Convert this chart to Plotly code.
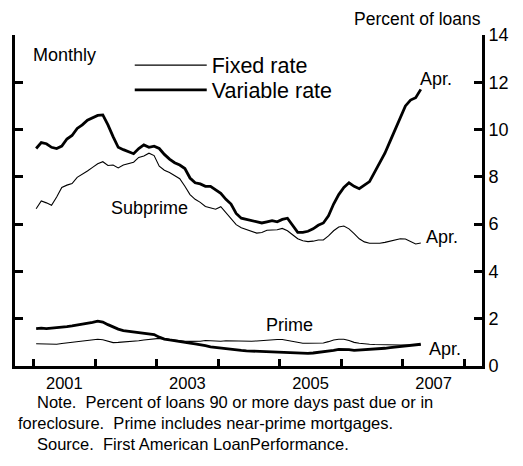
import plotly.graph_objects as go

# Monthly, Jan 2001 .. Apr 2007 (76 observations)
start_year = 2001
n_months = 76

subprime_fixed = [
    6.65, 6.98, 6.90, 6.80, 7.15, 7.55, 7.65, 7.72, 7.98, 8.10, 8.25, 8.40,
    8.55, 8.64, 8.48, 8.50, 8.38, 8.50, 8.57, 8.62, 8.82, 8.88, 9.00, 8.90,
    8.45, 8.28, 8.18, 8.05, 7.92, 7.60, 7.25, 7.05, 6.92, 6.75, 6.68, 6.63,
    6.74, 6.50, 6.25, 5.98, 5.85, 5.78, 5.72, 5.62, 5.65, 5.74, 5.75, 5.76,
    5.82, 5.72, 5.55, 5.38, 5.30, 5.26, 5.28, 5.33, 5.33, 5.50, 5.72, 5.88,
    5.92, 5.80, 5.60, 5.38, 5.25, 5.19, 5.19, 5.19, 5.23, 5.28, 5.32, 5.38,
    5.37, 5.27, 5.16, 5.20,
]
subprime_variable = [
    9.20, 9.45, 9.40, 9.25, 9.20, 9.30, 9.60, 9.75, 10.05, 10.20, 10.40, 10.50,
    10.60, 10.62, 10.20, 9.70, 9.25, 9.15, 9.05, 8.98, 9.20, 9.35, 9.25, 9.30,
    9.20, 8.95, 8.75, 8.60, 8.50, 8.35, 7.95, 7.75, 7.70, 7.60, 7.60, 7.45,
    7.30, 7.05, 6.85, 6.45, 6.25, 6.20, 6.15, 6.10, 6.05, 6.10, 6.15, 6.10,
    6.20, 6.25, 5.95, 5.65, 5.65, 5.70, 5.80, 5.95, 6.05, 6.35, 6.85, 7.25,
    7.55, 7.75, 7.60, 7.50, 7.65, 7.80, 8.20, 8.60, 9.00, 9.50, 10.00, 10.55,
    11.00, 11.25, 11.35, 11.70,
]
prime_fixed = [
    0.94, 0.93, 0.91, 0.90, 0.92, 0.95, 0.98, 1.00, 1.03, 1.06, 1.09, 1.11,
    1.13, 1.11, 1.05, 0.99, 1.00, 1.01, 1.02, 1.04, 1.07, 1.10, 1.13, 1.16,
    1.17, 1.15, 1.12, 1.10, 1.07, 1.05, 1.04, 1.03, 1.05, 1.08, 1.06, 1.04,
    1.05, 1.07, 1.06, 1.07, 1.07, 1.06, 1.05, 1.06, 1.08, 1.10, 1.11, 1.12,
    1.12, 1.08, 1.02, 0.98, 0.96, 0.96, 0.96, 0.96, 0.97, 1.03, 1.10, 1.13,
    1.13, 1.08, 1.00, 0.96, 0.93, 0.92, 0.91, 0.90, 0.90, 0.89, 0.89, 0.89,
    0.89, 0.88, 0.88, 0.89,
]
prime_variable = [
    1.58, 1.60, 1.58, 1.60, 1.60, 1.64, 1.67, 1.70, 1.73, 1.76, 1.80, 1.85,
    1.90, 1.86, 1.75, 1.64, 1.56, 1.50, 1.47, 1.43, 1.40, 1.38, 1.36, 1.33,
    1.22, 1.14, 1.10, 1.06, 1.02, 1.00, 0.97, 0.94, 0.91, 0.86, 0.81, 0.78,
    0.76, 0.73, 0.70, 0.68, 0.66, 0.64, 0.63, 0.62, 0.62, 0.61, 0.60, 0.60,
    0.59, 0.58, 0.56, 0.54, 0.53, 0.53, 0.55, 0.57, 0.59, 0.62, 0.66, 0.70,
    0.71, 0.69, 0.66, 0.67, 0.68, 0.70, 0.71, 0.73, 0.75, 0.78, 0.80, 0.83,
    0.85, 0.86, 0.87, 0.92,
]

year_ticks = [2001, 2002, 2003, 2004, 2005, 2006, 2007, 2008]
year_label_pos = [2001.5, 2003.5, 2005.5, 2007.5]
year_labels = ["2001", "2003", "2005", "2007"]
y_ticks = [0, 2, 4, 6, 8, 10, 12, 14]

# mid-month decimal dates
x_dates = [start_year + (m + 0.5) / 12 for m in range(n_months)]

FONT = "Liberation Sans, Arial, sans-serif"
THIN = 1.1
THICK = 2.8

fig = go.Figure()
fig.add_trace(go.Scatter(x=x_dates, y=subprime_fixed, mode="lines", name="Fixed rate",
                         legend="legend", line=dict(color="black", width=THIN)))
fig.add_trace(go.Scatter(x=x_dates, y=subprime_variable, mode="lines", name="Variable rate",
                         legend="legend2", line=dict(color="black", width=THICK)))
fig.add_trace(go.Scatter(x=x_dates, y=prime_fixed, mode="lines", showlegend=False,
                         line=dict(color="black", width=THIN)))
fig.add_trace(go.Scatter(x=x_dates, y=prime_variable, mode="lines", showlegend=False,
                         line=dict(color="black", width=THICK)))

legend_common = dict(xanchor="left", yanchor="middle", font=dict(size=21.5),
                     bgcolor="rgba(0,0,0,0)", itemwidth=72, borderwidth=0)

# page has an 8px body margin; figure is sized so the plot area sits at
# x 12..482, y 35..366 of the window
fig.update_layout(
    width=515, height=458,
    margin=dict(l=4, r=41, t=27, b=100),
    paper_bgcolor="white", plot_bgcolor="white",
    font=dict(family=FONT, size=18, color="black"),
    showlegend=True,
    legend=dict(x=0.2457, y=0.909, **legend_common),
    legend2=dict(x=0.2457, y=0.834, **legend_common),
    xaxis=dict(
        range=[2000.698, 2008.286],
        showgrid=False, zeroline=False,
        showline=True, linecolor="black", linewidth=3,
        tickmode="array", tickvals=year_label_pos, ticktext=year_labels,
        ticks="", tickfont=dict(size=16.5), ticklabelstandoff=0,
        minor=dict(tickmode="array", tickvals=year_ticks, ticks="inside",
                   ticklen=7, tickwidth=2.5, tickcolor="black", showgrid=False),
    ),
    yaxis=dict(
        range=[0, 14], side="right",
        showgrid=False, zeroline=False,
        showline=True, linecolor="black", linewidth=3, mirror="allticks",
        tickmode="array", tickvals=y_ticks,
        ticks="inside", ticklen=8, tickwidth=2.5, tickcolor="black",
        tickfont=dict(size=18),
    ),
)

note_font = dict(size=16.5)
annotations = [
    dict(text="Percent of loans", xref="paper", yref="paper", x=1.0, y=(366 - 8) / 331,
         xanchor="right", yanchor="top", showarrow=False, font=dict(size=17.5),
         borderpad=0),
    dict(text="Monthly", xref="paper", yref="paper", x=0.034, y=0.94,
         xanchor="left", yanchor="middle", showarrow=False, font=dict(size=18)),
    dict(text="Subprime", x=2002.879, y=6.68, xanchor="center", yanchor="middle",
         showarrow=False, font=dict(size=18)),
    dict(text="Prime", x=2005.157, y=1.73, xanchor="center", yanchor="middle",
         showarrow=False, font=dict(size=18)),
    dict(text="Apr.", x=2007.24, y=12.14, xanchor="left", yanchor="middle",
         showarrow=False, font=dict(size=18)),
    dict(text="Apr.", x=2007.338, y=5.45, xanchor="left", yanchor="middle",
         showarrow=False, font=dict(size=18)),
    dict(text="Apr.", x=2007.40, y=0.72, xanchor="left", yanchor="middle",
         showarrow=False, font=dict(size=18)),
    dict(text="Note.\u00a0 Percent of loans 90 or more days past due or in",
         xref="paper", yref="paper", x=(32 - 12) / 470, y=(366 - 402) / 331,
         xanchor="left", yanchor="middle", showarrow=False, font=note_font),
    dict(text="foreclosure.\u00a0 Prime includes near-prime mortgages.",
         xref="paper", yref="paper", x=(13 - 12) / 470, y=(366 - 423) / 331,
         xanchor="left", yanchor="middle", showarrow=False, font=note_font),
    dict(text="Source.\u00a0 First American LoanPerformance.",
         xref="paper", yref="paper", x=(32 - 12) / 470, y=(366 - 444) / 331,
         xanchor="left", yanchor="middle", showarrow=False, font=note_font),
]
fig.update_layout(annotations=annotations)

fig.write_html("out.html")
